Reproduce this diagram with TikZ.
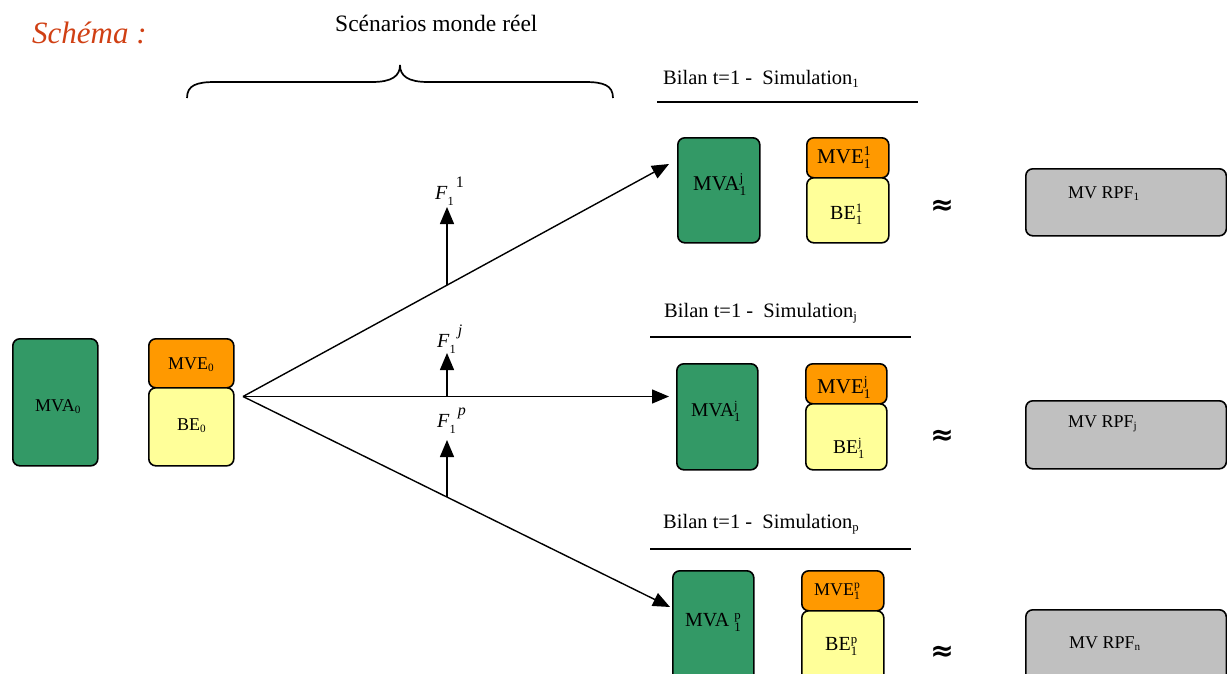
\documentclass[tikz,border=0pt]{standalone}
\usepackage{fontspec}
\setmainfont{Liberation Serif}
\newfontfamily\symfont{DejaVu Sans}
\usetikzlibrary{arrows.meta}

\definecolor{boxgreen}{RGB}{51,153,102}
\definecolor{boxorange}{RGB}{255,153,0}
\definecolor{boxyellow}{RGB}{255,255,153}
\definecolor{boxgrey}{RGB}{192,192,192}
\definecolor{titlered}{RGB}{208,64,20}

% font size helper
\newcommand{\fsz}[1]{\fontsize{#1}{#1}\selectfont}
% lowered small index
\newcommand{\lowidx}[1]{\raisebox{-0.15em}{\scalebox{0.62}{#1}}}
% stacked upper / lower index
\newcommand{\updn}[2]{\makebox[0pt][l]{\raisebox{0.34em}{\scalebox{0.64}{#1}}}\raisebox{-0.26em}{\scalebox{0.64}{#2}}}
% flow label F_1 with raised scenario index
\newcommand{\flab}[1]{\textit{F}\raisebox{-0.3em}{\scalebox{0.62}{1}}\kern0.1em\raisebox{0.6em}{\scalebox{0.8}{#1}}}
% approximately-equal sign
\newcommand{\approxsign}{{\symfont\bfseries\fsz{28}≈}}

\begin{document}
\begin{tikzpicture}[x=1pt,y=-1pt,
  box/.style={draw,line width=1.6pt,rounded corners=7pt,inner sep=0pt,anchor=north west},
  txt/.style={inner sep=0pt,anchor=base west},
  conn/.style={line width=1.4pt,-{Triangle[length=17pt,width=14pt]}},
  rule/.style={line width=1.4pt}]
\clip (0,0) rectangle (1227,673);

% titles
\node[txt,text=titlered] (title) at (32,43) {\fsz{31}\itshape Schéma :};
\node[txt] (scen) at (335,31) {\fsz{23.5}Scénarios monde réel};
\draw[line width=1.7pt] (187,98) .. controls (187,85) and (197,82) .. (215,82) -- (372,82)
  .. controls (392,82) and (400,76) .. (400,65)
  .. controls (400,76) and (408,82) .. (428,82) -- (585,82)
  .. controls (603,82) and (613,85) .. (613,98);

% initial balance sheet
\node[box,fill=boxgreen,minimum width=85pt,minimum height=127pt] (mva0) at (12,338) {};
\node[box,fill=boxorange,minimum width=85pt,minimum height=49pt] (mve0) at (148,338) {};
\node[box,fill=boxyellow,minimum width=85pt,minimum height=78pt] (be0) at (148,387) {};
\node[txt] (tmva0) at (35,411) {\fsz{18}MVA\lowidx{0}};
\node[txt] (tmve0) at (168,369) {\fsz{18}MVE\lowidx{0}};
\node[txt] (tbe0) at (177,430) {\fsz{18}BE\lowidx{0}};

% scenario fan
\coordinate (o) at (243,396.5);
\coordinate (t1) at (669,164);
\coordinate (tj) at (669,396.5);
\coordinate (tp) at (670,607);
\draw[conn] (o) -- (t1);
\draw[conn] (o) -- (tj);
\draw[conn] (o) -- (tp);

\coordinate (b1) at (447,285);
\coordinate (h1) at (447,207);
\coordinate (bj) at (447,396.5);
\coordinate (hj) at (447,353);
\coordinate (bp) at (447,497);
\coordinate (hp) at (447,440);
\draw[conn] (b1) -- (h1);
\draw[conn] (bj) -- (hj);
\draw[conn] (bp) -- (hp);
\node[txt] (f1) at (435,199) {\fsz{20}\flab{1}};
\node[txt] (fj) at (437,347) {\fsz{20}\flab{\textit{j}}};
\node[txt] (fp) at (437,427) {\fsz{20}\flab{\textit{p}}};

% simulation 1
\node[txt] (bil1) at (663,84) {\fsz{20.5}Bilan t=1 -\ \ Simulation\lowidx{1}};
\coordinate (u1a) at (657,102);
\coordinate (u1b) at (918,102);
\draw[rule] (u1a) -- (u1b);
\node[box,fill=boxgreen,minimum width=82pt,minimum height=105pt] (mva1) at (677,137) {};
\node[box,fill=boxorange,minimum width=82pt,minimum height=40pt] (mve1) at (806,137) {};
\node[box,fill=boxyellow,minimum width=82pt,minimum height=65pt] (be1) at (806,177) {};
\node[txt] (tmva1) at (693,190) {\fsz{21}MVA\updn{j}{1}};
\node[txt] (tmve1) at (817,163) {\fsz{21}MVE\updn{1}{1}};
\node[txt] (tbe1) at (830,219) {\fsz{20}BE\updn{1}{1}};
\node (ap1) at (942,207) {\approxsign};
\node[box,fill=boxgrey,minimum width=200.5pt,minimum height=67pt] (rpf1) at (1025,168) {};
\node[txt] (trpf1) at (1068,198) {\fsz{18}MV RPF\lowidx{1}};

% simulation j
\node[txt] (bilj) at (664,317) {\fsz{20.5}Bilan t=1 -\ \ Simulation\lowidx{j}};
\coordinate (uja) at (650,337);
\coordinate (ujb) at (911,337);
\draw[rule] (uja) -- (ujb);
\node[box,fill=boxgreen,minimum width=81pt,minimum height=106pt] (mvaj) at (676,363) {};
\node[box,fill=boxorange,minimum width=81pt,minimum height=40pt] (mvej) at (805,363) {};
\node[box,fill=boxyellow,minimum width=81pt,minimum height=66pt] (bej) at (805,403) {};
\node[txt] (tmvaj) at (691,416) {\fsz{19.5}MVA\updn{j}{1}};
\node[txt] (tmvej) at (817,393) {\fsz{21}MVE\updn{j}{1}};
\node[txt] (tbej) at (833,453) {\fsz{19.5}BE\updn{j}{1}};
\node (apj) at (942,437) {\approxsign};
\node[box,fill=boxgrey,minimum width=200.5pt,minimum height=68pt] (rpfj) at (1025,400) {};
\node[txt] (trpfj) at (1068,427) {\fsz{18}MV RPF\lowidx{j}};

% simulation p
\node[txt] (bilp) at (663,528) {\fsz{20.5}Bilan t=1 -\ \ Simulation\lowidx{p}};
\coordinate (upa) at (650,549);
\coordinate (upb) at (911,549);
\draw[rule] (upa) -- (upb);
\node[box,fill=boxgreen,minimum width=81pt,minimum height=130pt] (mvap) at (672,570) {};
\node[box,fill=boxorange,minimum width=82pt,minimum height=40pt] (mvep) at (801,570) {};
\node[box,fill=boxyellow,minimum width=82pt,minimum height=90pt] (bep) at (801,610) {};
\node[txt] (tmvap) at (685,626) {\fsz{20}MVA \updn{p}{1}};
\node[txt] (tmvep) at (814,595) {\fsz{18}MVE\updn{p}{1}};
\node[txt] (tbep) at (825,650) {\fsz{20}BE\updn{p}{1}};
\node (app) at (942,653) {\approxsign};
\node[box,fill=boxgrey,minimum width=200.5pt,minimum height=90pt] (rpfn) at (1025,609) {};
\node[txt] (trpfn) at (1069,648) {\fsz{18}MV RPF\lowidx{n}};
\end{tikzpicture}
\end{document}
